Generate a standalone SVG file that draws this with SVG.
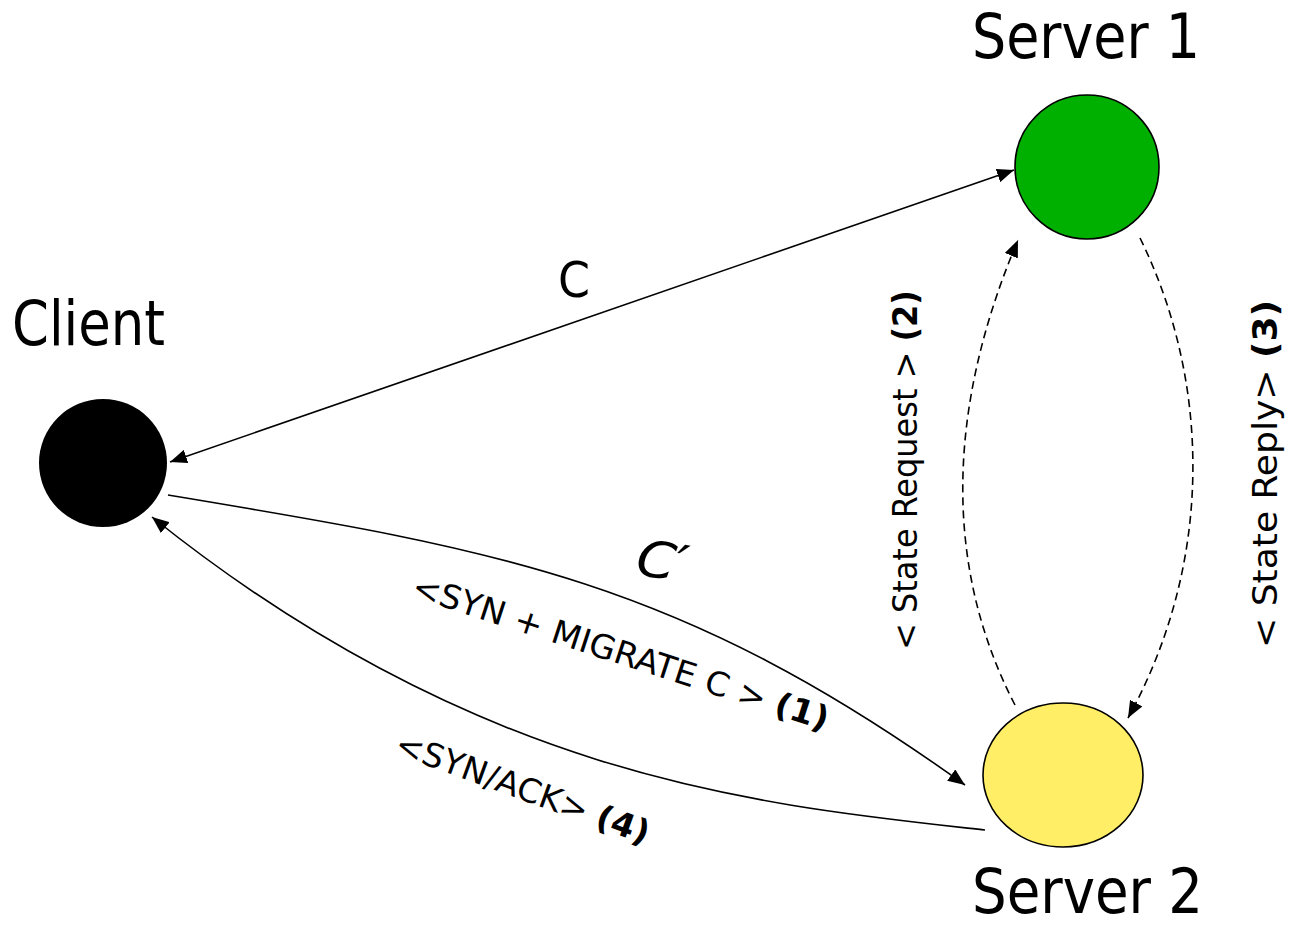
<svg xmlns="http://www.w3.org/2000/svg" width="1294" height="928" viewBox="0 0 1294 928">
  <style>
    .title { font-family: "DejaVu Sans", "Liberation Sans", sans-serif; font-stretch: condensed; font-size: 62px; fill: #000; }
    .lbl { font-family: "DejaVu Sans", "Liberation Sans", sans-serif; font-stretch: condensed; font-size: 33px; fill: #000; }
    .big { font-family: "DejaVu Sans", "Liberation Sans", sans-serif; font-stretch: condensed; font-size: 50px; fill: #000; }
    .num { font-weight: bold; }
    .edge { fill: none; stroke: #000; stroke-width: 1.6; }
    .dash { stroke-dasharray: 8 5; }
  </style>
  <defs>
    <marker id="arrow" markerUnits="userSpaceOnUse" markerWidth="18" markerHeight="14" refX="17" refY="7" orient="auto-start-reverse">
      <path d="M0,0 L17,7 L0,14 z" fill="#000"/>
    </marker>
  </defs>

  <!-- connectors -->
  <g id="connectors">
    <path id="edge-c" class="edge" d="M170,462 L1014,170" marker-start="url(#arrow)" marker-end="url(#arrow)"/>
    <path id="edge-c-prime" class="edge" d="M168,495 C500,550 680,580 965,785" marker-end="url(#arrow)"/>
    <path id="edge-synack" class="edge" d="M985,830 C760,805 480,780 152,517" marker-end="url(#arrow)"/>
    <path id="edge-state-request" class="edge dash" d="M1015,705 C940,560 950,400 1018,240" marker-end="url(#arrow)"/>
    <path id="edge-state-reply" class="edge dash" d="M1140,238 C1210,380 1215,560 1128,718" marker-end="url(#arrow)"/>
  </g>

  <!-- edge labels -->
  <g id="edge-labels">
    <text class="big" x="558" y="297" textLength="32" lengthAdjust="spacingAndGlyphs">C</text>
    <text class="big" font-style="italic" x="636" y="578" textLength="52" lengthAdjust="spacingAndGlyphs" transform="rotate(8 660 565)">C′</text>
    <text class="lbl" transform="translate(410,596) rotate(18)" textLength="436" lengthAdjust="spacingAndGlyphs">&lt;SYN + MIGRATE C &gt; <tspan class="num">(1)</tspan></text>
    <text class="lbl" transform="translate(393,753) rotate(20)" textLength="268" lengthAdjust="spacingAndGlyphs">&lt;SYN/ACK&gt; <tspan class="num">(4)</tspan></text>
    <text class="lbl" transform="translate(917,650) rotate(-90)" textLength="360" lengthAdjust="spacingAndGlyphs">&lt; State Request &gt; <tspan class="num">(2)</tspan></text>
    <text class="lbl" transform="translate(1277,648) rotate(-90)" textLength="348" lengthAdjust="spacingAndGlyphs">&lt; State Reply&gt; <tspan class="num">(3)</tspan></text>
  </g>

  <!-- nodes -->
  <g id="client">
    <circle cx="103" cy="463" r="64" fill="#000"/>
    <text class="title" x="12" y="345" textLength="153" lengthAdjust="spacingAndGlyphs">Client</text>
  </g>
  <g id="server1">
    <circle cx="1087" cy="167" r="72" fill="#00B000" stroke="#000" stroke-width="1.6"/>
    <text class="title" x="972" y="58" textLength="228" lengthAdjust="spacingAndGlyphs">Server 1</text>
  </g>
  <g id="server2">
    <ellipse cx="1063" cy="775" rx="80" ry="72" fill="#FFEE66" stroke="#000" stroke-width="1.6"/>
    <text class="title" x="972" y="913" font-size="61" textLength="231" lengthAdjust="spacingAndGlyphs">Server 2</text>
  </g>
</svg>
